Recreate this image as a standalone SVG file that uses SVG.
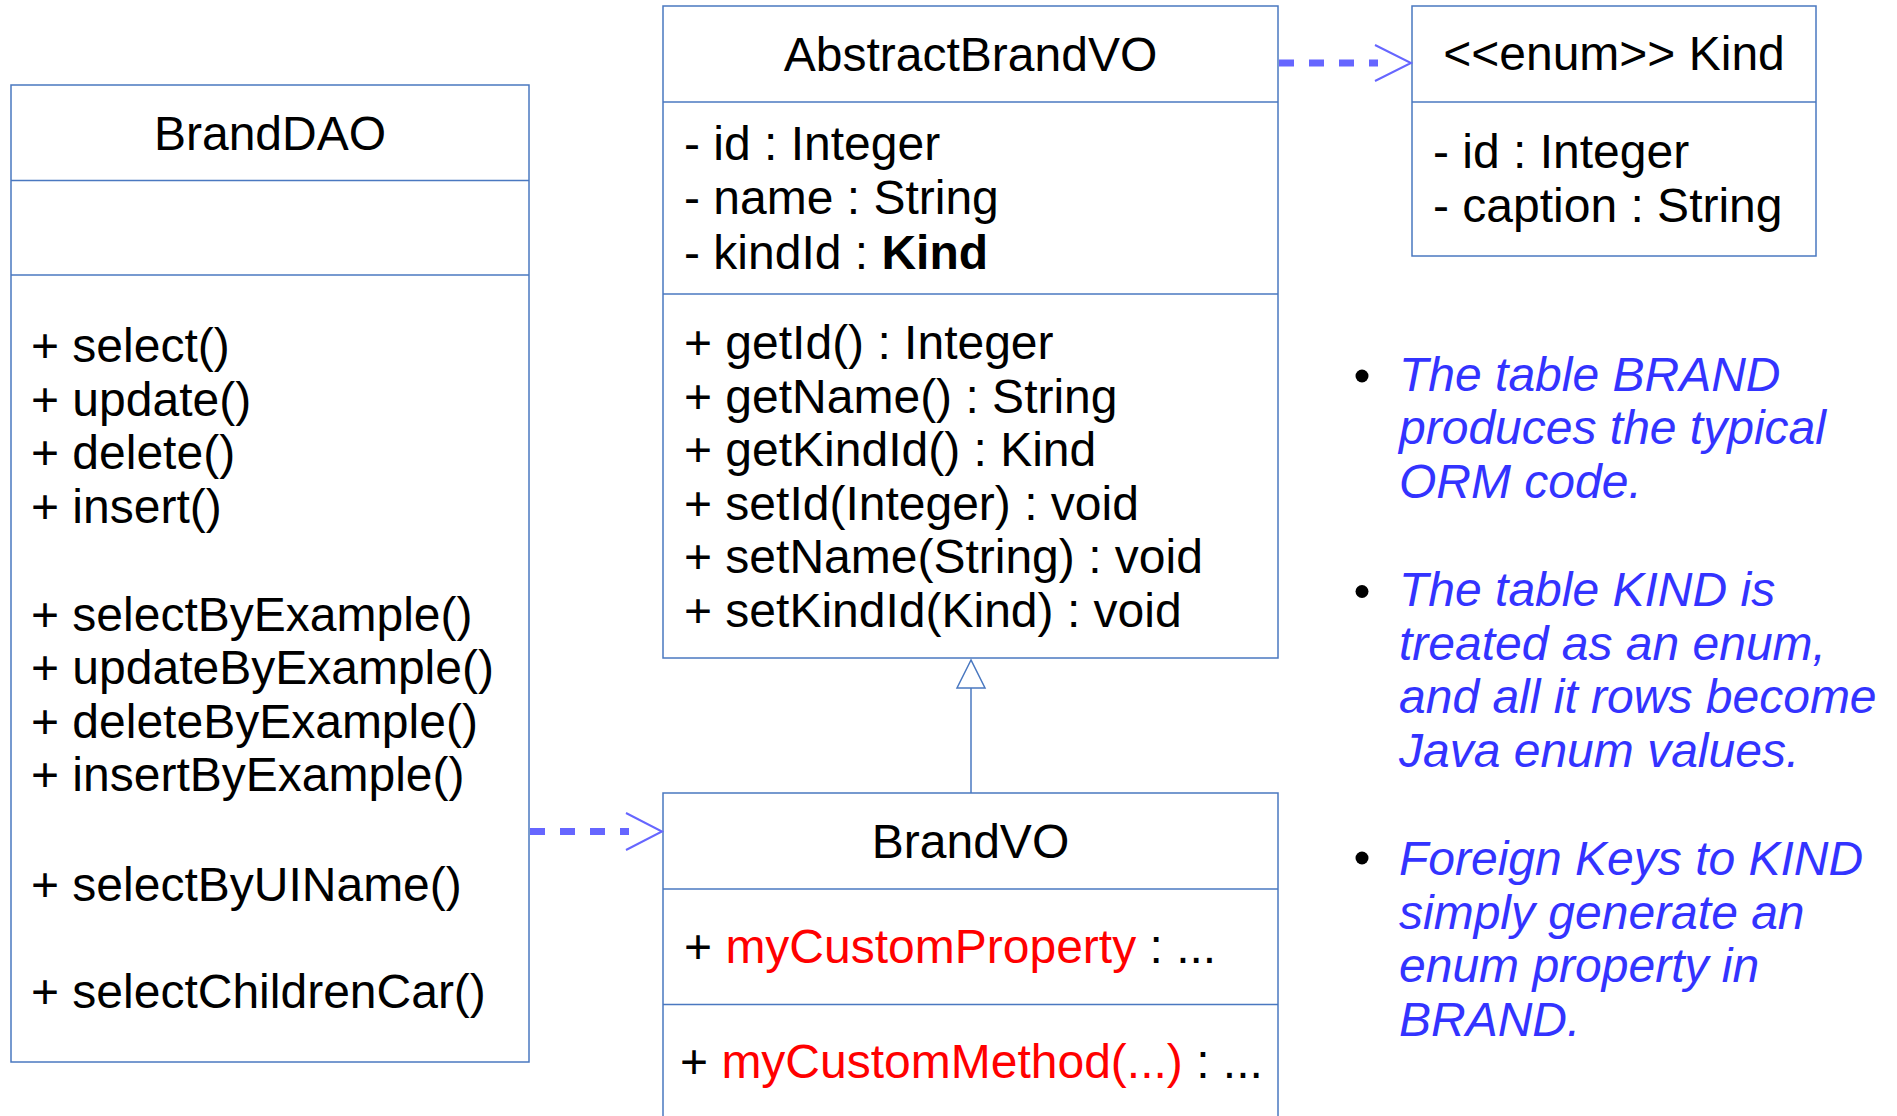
<svg xmlns="http://www.w3.org/2000/svg" width="1897" height="1116" viewBox="0 0 1897 1116">
  <style>
    .box { fill: #ffffff; stroke: #4a78c0; stroke-width: 1.5; }
    .sep { stroke: #4a78c0; stroke-width: 1.5; }
    .t { font-family: "Liberation Sans", Arial, sans-serif; font-size: 48px; fill: #000000; }
    .mid { text-anchor: middle; }
    .red { fill: #ff0000; }
    .note { font-family: "Liberation Sans", Arial, sans-serif; font-size: 48px; font-style: italic; fill: #3333ff; }
    .dep { fill: none; stroke: #6666ff; stroke-width: 7; stroke-dasharray: 15 15; }
    .head { fill: none; stroke: #6666ff; stroke-width: 2; }
    .gen { fill: none; stroke: #4a78c0; stroke-width: 1.5; }
  </style>

  <!-- DAO class -->
  <g id="BrandDAO">
    <rect class="box" x="11" y="85" width="518" height="977"/>
    <line class="sep" x1="11" y1="180.5" x2="529" y2="180.5"/>
    <line class="sep" x1="11" y1="275" x2="529" y2="275"/>
    <text class="t mid" x="270" y="150">BrandDAO</text>
    <text class="t" x="31" y="362">+ select()</text>
    <text class="t" x="31" y="415.5">+ update()</text>
    <text class="t" x="31" y="469">+ delete()</text>
    <text class="t" x="31" y="522.5">+ insert()</text>
    <text class="t" x="31" y="630.5">+ selectByExample()</text>
    <text class="t" x="31" y="684">+ updateByExample()</text>
    <text class="t" x="31" y="737.5">+ deleteByExample()</text>
    <text class="t" x="31" y="791">+ insertByExample()</text>
    <text class="t" x="31" y="900.5">+ selectByUIName()</text>
    <text class="t" x="31" y="1007.5">+ selectChildrenCar()</text>
  </g>

  <!-- Abstract value object -->
  <g id="AbstractBrandVO">
    <rect class="box" x="663" y="6" width="615" height="652"/>
    <line class="sep" x1="663" y1="102" x2="1278" y2="102"/>
    <line class="sep" x1="663" y1="294" x2="1278" y2="294"/>
    <text class="t mid" x="970.5" y="71">AbstractBrandVO</text>
    <text class="t" x="684" y="159.5">- id : Integer</text>
    <text class="t" x="684" y="214">- name : String</text>
    <text class="t" x="684" y="268.5">- kindId : <tspan font-weight="bold">Kind</tspan></text>
    <text class="t" x="684" y="359">+ getId() : Integer</text>
    <text class="t" x="684" y="412.5">+ getName() : String</text>
    <text class="t" x="684" y="466">+ getKindId() : Kind</text>
    <text class="t" x="684" y="519.5">+ setId(Integer) : void</text>
    <text class="t" x="684" y="573">+ setName(String) : void</text>
    <text class="t" x="684" y="626.5">+ setKindId(Kind) : void</text>
  </g>

  <!-- Enum -->
  <g id="Kind">
    <rect class="box" x="1412" y="6" width="404" height="250"/>
    <line class="sep" x1="1412" y1="102" x2="1816" y2="102"/>
    <text class="t mid" x="1614" y="70">&lt;&lt;enum&gt;&gt; Kind</text>
    <text class="t" x="1433" y="168">- id : Integer</text>
    <text class="t" x="1433" y="221.5">- caption : String</text>
  </g>

  <!-- Concrete value object -->
  <g id="BrandVO">
    <rect class="box" x="663" y="793" width="615" height="340"/>
    <line class="sep" x1="663" y1="889" x2="1278" y2="889"/>
    <line class="sep" x1="663" y1="1004.5" x2="1278" y2="1004.5"/>
    <text class="t mid" x="970.5" y="858">BrandVO</text>
    <text class="t" x="684" y="963">+ <tspan class="red">myCustomProperty</tspan> : ...</text>
    <text class="t" x="680" y="1077.5">+ <tspan class="red">myCustomMethod(...)</tspan> : ...</text>
  </g>

  <!-- Relationships -->
  <g id="connectors">
    <!-- AbstractBrandVO uses Kind -->
    <line class="dep" x1="1279" y1="63" x2="1378" y2="63"/>
    <polyline class="head" points="1375,45 1411,63 1375,81"/>
    <!-- BrandDAO uses BrandVO -->
    <line class="dep" x1="530" y1="831.5" x2="629" y2="831.5"/>
    <polyline class="head" points="626,813 662,831.5 626,850"/>
    <!-- BrandVO extends AbstractBrandVO -->
    <line class="gen" x1="971" y1="793" x2="971" y2="688"/>
    <polygon class="gen" points="971,660 957,688 985,688"/>
  </g>

  <!-- Notes -->
  <g id="notes">
    <circle cx="1362" cy="376" r="6.5" fill="#000000"/>
    <text class="note" x="1399" y="390.5">The table BRAND</text>
    <text class="note" x="1399" y="444">produces the typical</text>
    <text class="note" x="1399" y="497.5">ORM code.</text>

    <circle cx="1362" cy="591.5" r="6.5" fill="#000000"/>
    <text class="note" x="1399" y="606">The table KIND is</text>
    <text class="note" x="1399" y="659.5">treated as an enum,</text>
    <text class="note" x="1399" y="713">and all it rows become</text>
    <text class="note" x="1399" y="766.5">Java enum values.</text>

    <circle cx="1362" cy="858" r="6.5" fill="#000000"/>
    <text class="note" x="1399" y="875">Foreign Keys to KIND</text>
    <text class="note" x="1399" y="928.5">simply generate an</text>
    <text class="note" x="1399" y="982">enum property in</text>
    <text class="note" x="1399" y="1035.5">BRAND.</text>
  </g>
</svg>
